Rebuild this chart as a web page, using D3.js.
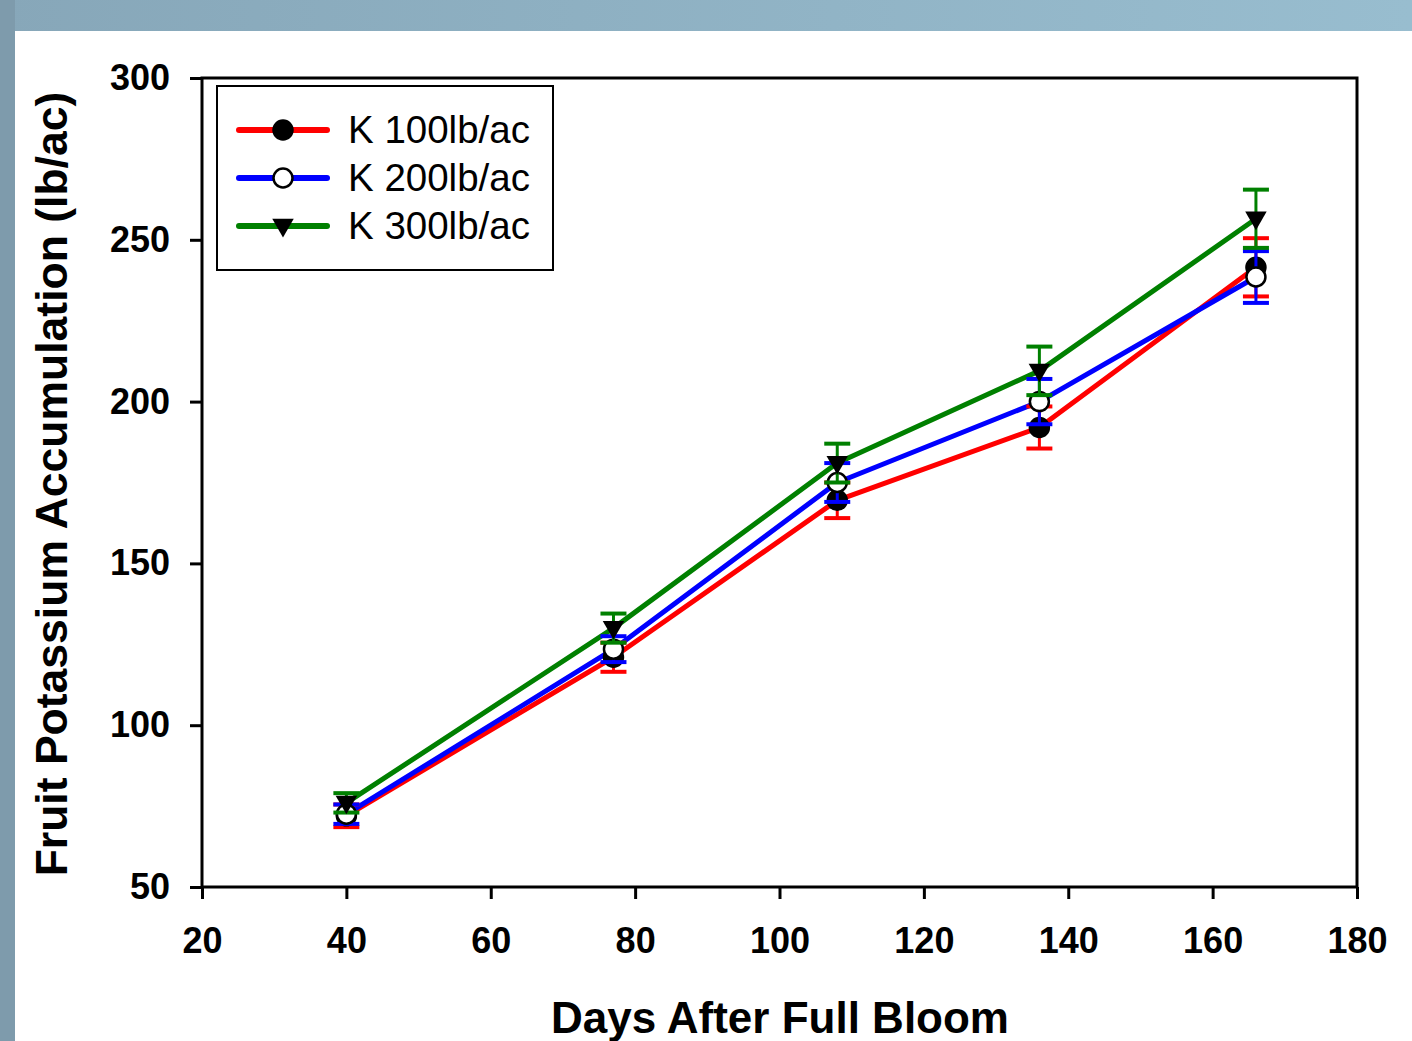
<!DOCTYPE html>
<html>
<head>
<meta charset="utf-8">
<script src="https://cdn.jsdelivr.net/npm/d3@7"></script>
<style>
  body { margin: 0; background: #8aaabb; }
  svg { display: block; font-family: Arial, "Liberation Sans", sans-serif; }
</style>
</head>
<body>
<div id="chart"></div>
<script>
var days = [40, 77, 108, 136, 166];
var k100 = [72, 121, 169.5, 192, 241.5];
var k100Err = [3.5, 4.5, 5.5, 6.5, 9];
var k200 = [72.5, 123.5, 175, 200, 238.5];
var k200Err = [3, 4, 6, 7, 8];
var k300 = [76, 130, 181, 209.5, 256.5];
var k300Err = [3, 4.5, 6, 7.5, 9];
var seriesNames = ["K 100lb/ac", "K 200lb/ac", "K 300lb/ac"];
var xTicks = [20, 40, 60, 80, 100, 120, 140, 160, 180];
var yTicks = [50, 100, 150, 200, 250, 300];

(function() {
  var W = 1412, H = 1041;

  var svg = d3.select("#chart").append("svg")
    .attr("width", W)
    .attr("height", H);

  // slide background
  var grad = svg.append("defs").append("linearGradient")
    .attr("id", "bg").attr("x1", "0%").attr("x2", "100%");
  grad.append("stop").attr("offset", "0%").attr("stop-color", "#87a7b9");
  grad.append("stop").attr("offset", "100%").attr("stop-color", "#98bdcf");
  svg.append("rect").attr("width", W).attr("height", H).attr("fill", "url(#bg)");
  svg.append("rect").attr("width", 15).attr("height", H).attr("fill", "#7e9bac");
  svg.append("rect").attr("x", 15).attr("y", 31).attr("width", W - 15).attr("height", H - 31).attr("fill", "#fff");

  var x = d3.scaleLinear().domain([20, 180]).range([202, 1357]);
  var y = d3.scaleLinear().domain([50, 300]).range([887, 78]);

  var series = [
    { name: seriesNames[0], vals: k100, err: k100Err, color: "#ff0000", sym: "filled" },
    { name: seriesNames[1], vals: k200, err: k200Err, color: "#0000ff", sym: "open" },
    { name: seriesNames[2], vals: k300, err: k300Err, color: "#008000", sym: "tri" }
  ];
  series.forEach(function(s) {
    s.points = days.map(function(d, i) { return { x: d, y: s.vals[i], e: s.err[i] }; });
  });

  // axes
  var xAxis = svg.append("g")
    .attr("transform", "translate(0," + y(50) + ")")
    .call(d3.axisBottom(x).tickValues(xTicks).tickSize(12).tickPadding(28).tickSizeOuter(0));
  var yAxis = svg.append("g")
    .attr("transform", "translate(" + x(20) + ",0)")
    .call(d3.axisLeft(y).tickValues(yTicks).tickSize(12).tickPadding(20).tickSizeOuter(0));

  [xAxis, yAxis].forEach(function(a) {
    a.select(".domain").remove();
    a.selectAll("line").attr("stroke", "#000").attr("stroke-width", 3);
    a.selectAll("text")
      .attr("fill", "#000")
      .style("font-size", "36px")
      .style("font-weight", "bold")
      .style("font-family", "Arial, 'Liberation Sans', sans-serif");
  });

  // frame
  svg.append("rect")
    .attr("x", x(20)).attr("y", y(300))
    .attr("width", x(180) - x(20)).attr("height", y(50) - y(300))
    .attr("fill", "none").attr("stroke", "#000").attr("stroke-width", 3);

  // axis titles
  svg.append("text")
    .attr("x", 780).attr("y", 1033)
    .attr("text-anchor", "middle")
    .style("font-size", "44px").style("font-weight", "bold")
    .text("Days After Full Bloom");

  svg.append("text")
    .attr("transform", "translate(67,484) rotate(-90)")
    .attr("text-anchor", "middle")
    .style("font-size", "44.5px").style("font-weight", "bold")
    .text("Fruit Potassium Accumulation (lb/ac)");

  var line = d3.line()
    .x(function(d) { return x(d.x); })
    .y(function(d) { return y(d.y); });

  series.forEach(function(s) {
    svg.append("path")
      .datum(s.points)
      .attr("d", line)
      .attr("fill", "none")
      .attr("stroke", s.color)
      .attr("stroke-width", 5)
      .attr("stroke-linejoin", "round");
  });

  var tri = d3.symbol().type(d3.symbolTriangle).size(200);

  function drawSymbol(g, s, cx, cy) {
    if (s.sym === "tri") {
      g.append("path")
        .attr("d", tri())
        .attr("transform", "translate(" + cx + "," + (cy - 1) + ") rotate(180)")
        .attr("fill", "#000");
    } else {
      g.append("circle")
        .attr("cx", cx).attr("cy", cy).attr("r", 9.5)
        .attr("fill", s.sym === "filled" ? "#000" : "#fff")
        .attr("stroke", "#000").attr("stroke-width", 2.5);
    }
  }

  series.forEach(function(s) {
    var g = svg.append("g");
    var eb = g.selectAll(".eb").data(s.points).enter().append("g");
    eb.append("line")
      .attr("x1", function(d) { return x(d.x); })
      .attr("x2", function(d) { return x(d.x); })
      .attr("y1", function(d) { return y(d.y - d.e); })
      .attr("y2", function(d) { return y(d.y + d.e); })
      .attr("stroke", s.color).attr("stroke-width", 3);
    [-1, 1].forEach(function(sign) {
      eb.append("line")
        .attr("x1", function(d) { return x(d.x) - 13; })
        .attr("x2", function(d) { return x(d.x) + 13; })
        .attr("y1", function(d) { return y(d.y + sign * d.e); })
        .attr("y2", function(d) { return y(d.y + sign * d.e); })
        .attr("stroke", s.color).attr("stroke-width", 4);
    });
    s.points.forEach(function(d) {
      drawSymbol(g, s, x(d.x), y(d.y));
    });
  });

  // legend
  var legend = svg.append("g");
  legend.append("rect")
    .attr("x", 217).attr("y", 86).attr("width", 336).attr("height", 184)
    .attr("fill", "#fff").attr("stroke", "#000").attr("stroke-width", 2);

  series.forEach(function(s, i) {
    var ly = 130 + i * 48;
    legend.append("line")
      .attr("x1", 239).attr("x2", 327).attr("y1", ly).attr("y2", ly)
      .attr("stroke", s.color).attr("stroke-width", 6).attr("stroke-linecap", "round");
    drawSymbol(legend, s, 283, ly);
    legend.append("text")
      .attr("x", 348).attr("y", ly)
      .attr("dy", "0.35em")
      .style("font-size", "38.5px")
      .text(s.name);
  });
})();
</script>
</body>
</html>
